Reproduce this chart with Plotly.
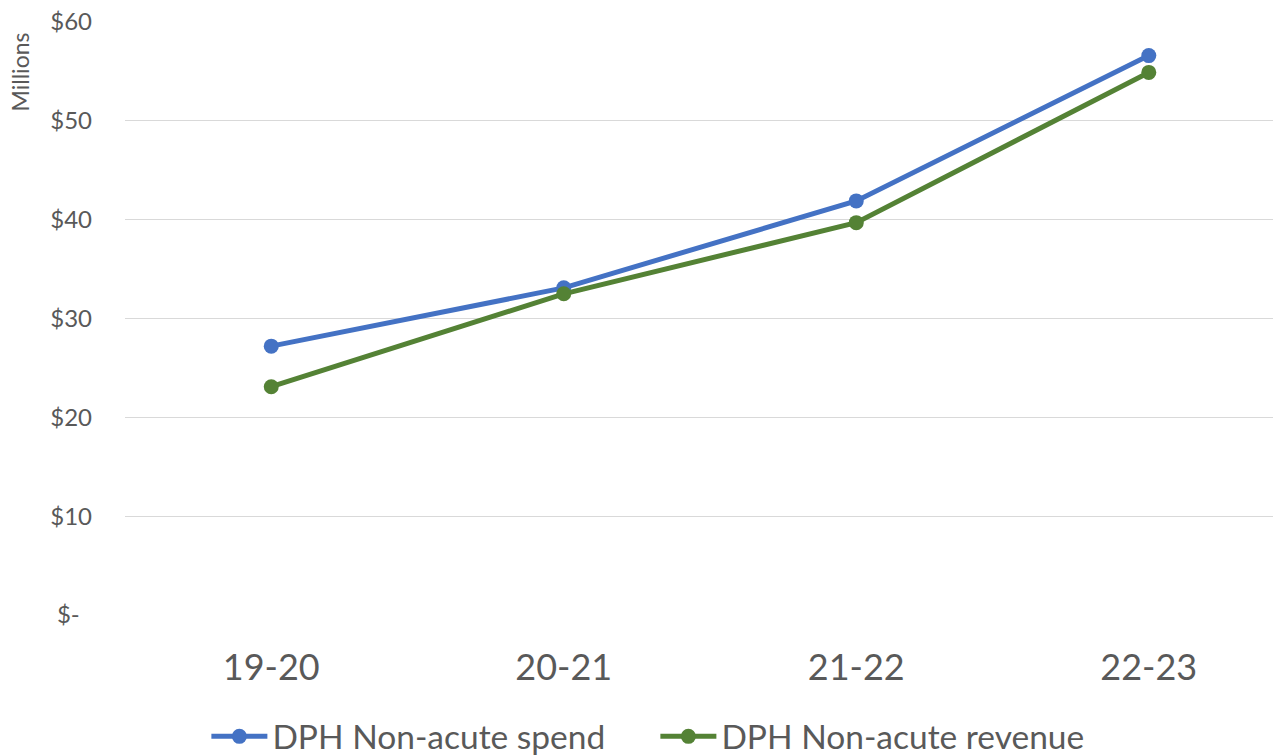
import plotly.graph_objects as go

categories = ["19-20", "20-21", "21-22", "22-23"]
spend = [27.2, 33.1, 41.9, 56.6]
revenue = [23.1, 32.5, 39.7, 54.9]
y_tickvals = [0, 10, 20, 30, 40, 50, 60]
y_ticktext = ["$-\u00a0\u00a0", "$10", "$20", "$30", "$40", "$50", "$60"]

FONT = "Lato, Carlito, Calibri, 'Open Sans', sans-serif"
GREY = "#595959"

fig = go.Figure()
fig.add_trace(go.Scatter(
    x=categories, y=spend, name="DPH Non-acute spend",
    mode="lines+markers",
    line=dict(color="#4472C4", width=5),
    marker=dict(color="#4472C4", size=15),
))
fig.add_trace(go.Scatter(
    x=categories, y=revenue, name="DPH Non-acute revenue",
    mode="lines+markers",
    line=dict(color="#548235", width=5),
    marker=dict(color="#548235", size=15),
))

fig.update_layout(
    width=1273, height=748,
    margin=dict(l=117, r=0, t=14, b=141, autoexpand=False),
    paper_bgcolor="white", plot_bgcolor="white",
    font=dict(family=FONT, color=GREY),
    showlegend=True,
    legend=dict(
        orientation="h", x=0.0704, xanchor="left", y=-0.205, yanchor="middle",
        font=dict(size=33.5, color=GREY, family=FONT),
        itemwidth=56, tracegroupgap=0, entrywidth=378,
    ),
    xaxis=dict(
        type="category", range=[-0.5, 3.452],
        showgrid=False, zeroline=False, showline=False,
        tickfont=dict(size=36, color=GREY, family=FONT),
        ticks="", ticklabelstandoff=28,
    ),
    yaxis=dict(
        range=[0, 60], tickvals=y_tickvals, ticktext=y_ticktext,
        showgrid=True, gridcolor="#d9d9d9", gridwidth=1,
        zeroline=False, showline=False,
        tickfont=dict(size=24, color=GREY, family=FONT),
        ticks="", ticklabelstandoff=32, ticklabeloverflow="allow",
    ),
    annotations=[dict(
        text="Millions", textangle=-90, xref="paper", yref="paper",
        x=-0.0908, y=0.915, xanchor="center", yanchor="middle",
        showarrow=False, font=dict(size=23, color=GREY, family=FONT),
    )],
)

fig.write_html("out.html")
